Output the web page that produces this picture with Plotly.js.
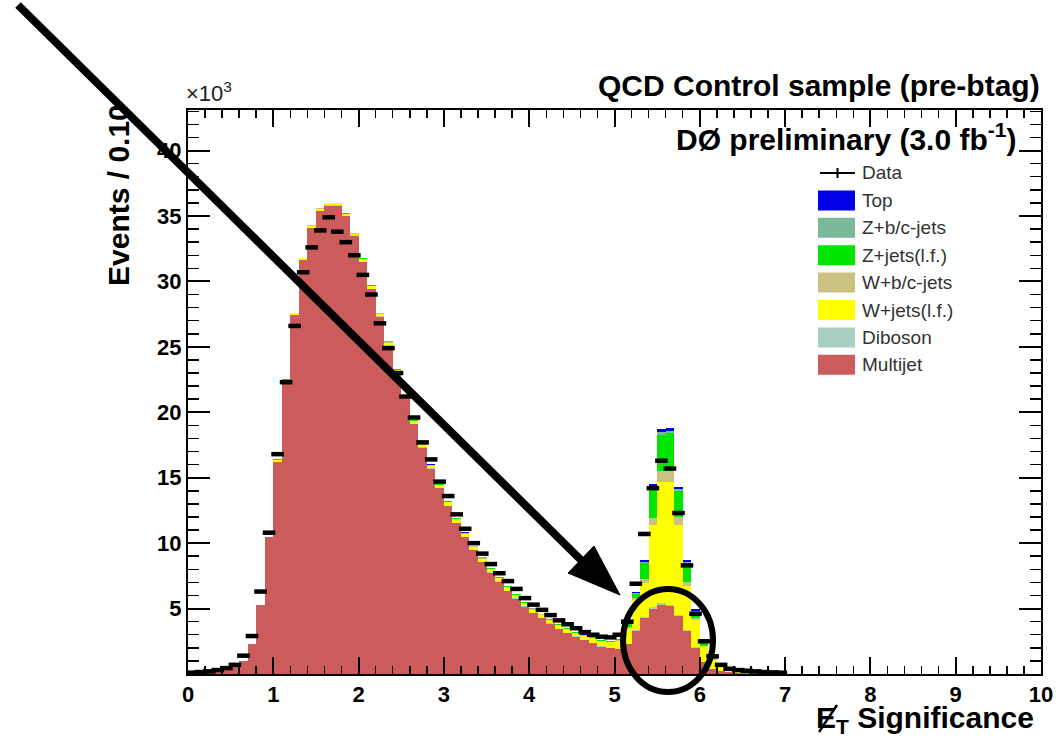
<!DOCTYPE html>
<html><head><meta charset="utf-8">
<script src="https://cdn.plot.ly/plotly-3.0.1.min.js"></script>
<style>html,body{margin:0;padding:0;background:#fff}#chart{width:1058px;height:739px}</style>
</head><body><div id="chart"></div>
<script>
// bin centres of the 0.1-wide MET-significance bins
const binCenters = [0.05,0.15,0.25,0.35,0.45,0.55,0.65,0.75,0.85,0.95,
  1.05,1.15,1.25,1.35,1.45,1.55,1.65,1.75,1.85,1.95,
  2.05,2.15,2.25,2.35,2.45,2.55,2.65,2.75,2.85,2.95,
  3.05,3.15,3.25,3.35,3.45,3.55,3.65,3.75,3.85,3.95,
  4.05,4.15,4.25,4.35,4.45,4.55,4.65,4.75,4.85,4.95,
  5.05,5.15,5.25,5.35,5.45,5.55,5.65,5.75,5.85,5.95,
  6.05,6.15,6.25,6.35,6.45,6.55,6.65,6.75,6.85,6.95];

// events per bin, in thousands
const multijet = [0.05,0.10,0.15,0.20,0.30,0.50,1.00,2.30,5.30,10.5,
  16.2,22.3,27.4,31.6,34.1,35.4,35.8,35.8,35.0,33.5,
  31.5,29.4,27.3,25.1,23.0,21.0,19.1,17.3,15.7,14.2,
  12.85,11.55,10.45,9.45,8.55,7.75,7.05,6.35,5.75,5.15,
  4.65,4.25,3.85,3.45,3.15,2.85,2.6,2.35,2.1,1.95,
  1.9,2.3,3.3,4.3,5.0,5.3,5.2,4.4,3.3,2.0,
  0.9,0.4,0.2,0.12,0.08,0.06,0.05,0.04,0.03,0.02];
const diboson = [0,0,0,0,0,0,0,0,0,0,
  0.01,0.01,0.01,0.01,0.01,0.01,0.01,0.01,0.01,0.01,
  0.02,0.02,0.02,0.02,0.02,0.02,0.02,0.02,0.02,0.02,
  0.02,0.02,0.02,0.02,0.02,0.02,0.02,0.02,0.02,0.02,
  0.02,0.02,0.02,0.02,0.02,0.02,0.02,0.02,0.02,0.02,
  0.02,0.02,0.03,0.05,0.1,0.1,0.1,0.1,0.05,0.03,
  0.02,0.01,0,0,0,0,0,0,0,0];
const wJetsLF = [0,0,0,0,0,0,0,0,0,0,
  0.15,0.15,0.15,0.15,0.15,0.15,0.15,0.15,0.15,0.15,
  0.2,0.2,0.2,0.2,0.2,0.2,0.2,0.2,0.2,0.2,
  0.25,0.25,0.25,0.25,0.25,0.25,0.25,0.25,0.25,0.25,
  0.25,0.25,0.25,0.25,0.25,0.25,0.3,0.35,0.4,0.45,
  0.6,1.2,2.3,2.6,6.3,9.3,9.4,6.9,3.4,2.1,
  1.2,0.65,0.35,0.2,0.15,0.12,0.09,0.06,0.04,0.03];
const wJetsBC = [0,0,0,0,0,0,0,0,0,0,
  0.02,0.02,0.02,0.02,0.02,0.02,0.02,0.02,0.02,0.02,
  0.03,0.03,0.03,0.03,0.03,0.03,0.03,0.03,0.03,0.03,
  0.03,0.03,0.03,0.03,0.03,0.03,0.03,0.03,0.03,0.03,
  0.03,0.03,0.03,0.03,0.03,0.03,0.03,0.03,0.03,0.03,
  0.05,0.05,0.15,0.3,0.5,0.8,0.8,0.6,0.3,0.15,
  0.05,0.05,0,0,0,0,0,0,0,0];
const zJetsLF = [0,0,0,0,0,0,0,0,0,0,
  0.03,0.03,0.03,0.03,0.03,0.03,0.03,0.03,0.03,0.03,
  0.05,0.05,0.05,0.05,0.05,0.05,0.05,0.05,0.05,0.05,
  0.05,0.05,0.05,0.05,0.05,0.05,0.05,0.05,0.05,0.05,
  0.05,0.05,0.05,0.05,0.05,0.05,0.05,0.05,0.05,0.05,
  0.1,0.25,0.35,1.2,2.3,2.8,2.9,2.0,1.4,0.5,
  0.25,0.1,0.05,0.03,0.02,0.02,0.01,0.01,0.01,0];
const zJetsBC = [0,0,0,0,0,0,0,0,0,0,
  0,0,0,0,0,0,0,0,0,0,
  0.01,0.01,0.01,0.01,0.01,0.01,0.01,0.01,0.01,0.01,
  0.01,0.01,0.01,0.01,0.01,0.01,0.01,0.01,0.01,0.01,
  0.01,0.01,0.01,0.01,0.01,0.01,0.01,0.01,0.01,0.01,
  0.01,0.02,0.05,0.1,0.1,0.2,0.2,0.1,0.1,0.05,
  0.02,0.01,0,0,0,0,0,0,0,0];
const topQuark = [0,0,0,0,0,0,0,0,0,0,
  0,0,0,0,0,0,0,0,0,0,
  0.01,0.01,0.01,0.01,0.01,0.01,0.01,0.01,0.01,0.01,
  0.01,0.01,0.01,0.01,0.01,0.01,0.01,0.01,0.01,0.01,
  0.01,0.01,0.01,0.01,0.01,0.01,0.01,0.01,0.01,0.01,
  0.01,0.02,0.05,0.15,0.2,0.2,0.2,0.2,0.15,0.1,
  0.02,0.01,0,0,0,0,0,0,0,0];
const dataCounts = [0.1,0.15,0.2,0.3,0.45,0.7,1.4,2.9,6.3,10.8,
  16.8,22.3,26.6,30.7,32.6,33.9,34.9,33.8,33.0,32.0,
  30.5,29.0,26.8,24.9,23.0,21.2,19.6,17.7,16.4,14.7,
  13.6,12.2,11.1,10.0,9.2,8.4,7.7,7.1,6.5,5.8,
  5.3,4.9,4.5,4.1,3.8,3.5,3.2,3.0,2.85,2.8,
  3.0,4.0,6.9,10.7,14.2,16.3,15.7,12.3,8.3,4.6,
  2.5,1.35,0.7,0.4,0.3,0.25,0.2,0.15,0.12,0.1];

// stack order bottom -> top
const stackNames = ['Multijet','Diboson','W+jets(l.f.)','W+b/c-jets','Z+jets(l.f.)','Z+b/c-jets','Top'];
const stackValues = [multijet, diboson, wJetsLF, wJetsBC, zJetsLF, zJetsBC, topQuark];
const stackColors = ['#cc5c5c','#a9cfc3','#ffff00','#cbc282','#00e600','#7ab99a','#0000e6'];

const xTickVals = [0,1,2,3,4,5,6,7,8,9,10];
const yTickVals = [5,10,15,20,25,30,35,40];

// page geometry helpers for decorations (pixel -> paper)
const W = 1058, H = 739, ML = 188, MR = 17, MT = 110, MB = 65;
const PW = W - ML - MR, PH = H - MT - MB;
const px = x => (x - ML) / PW;
const py = y => (H - MB - y) / PH;

const FONT = 'Liberation Sans, Arial, Helvetica, sans-serif';

const traces = stackNames.map((name, i) => ({
  type: 'bar', name: name, x: binCenters, y: stackValues[i],
  marker: {color: stackColors[i], line: {width: 0}},
  showlegend: false, hoverinfo: 'skip'
}));
traces.push({
  type: 'scatter', mode: 'markers', name: 'Data', x: binCenters, y: dataCounts,
  marker: {symbol: 'line-ew', size: 9, color: '#000', line: {color: '#000', width: 4.5}},
  showlegend: false, hoverinfo: 'skip'
});

// custom legend (ROOT style), top to bottom
const legendOrder = ['Top','Z+b/c-jets','Z+jets(l.f.)','W+b/c-jets','W+jets(l.f.)','Diboson','Multijet'];
const shapes = [];
const annotations = [];
const legY0 = 173, legDY = 27.4, boxX0 = 818, boxX1 = 855, textX = 861;
shapes.push({type:'line', xref:'paper', yref:'paper', x0:px(820), x1:px(855), y0:py(legY0), y1:py(legY0), line:{color:'#000', width:2}});
shapes.push({type:'line', xref:'paper', yref:'paper', x0:px(837.5), x1:px(837.5), y0:py(legY0-5), y1:py(legY0+5), line:{color:'#000', width:2}});
annotations.push({xref:'paper', yref:'paper', x:px(textX), y:py(legY0), xanchor:'left', yanchor:'middle', showarrow:false, borderpad:0, text:'Data', font:{family:FONT, size:19, color:'#333'}});
legendOrder.forEach((name, k) => {
  const yc = legY0 + legDY * (k + 1);
  const col = stackColors[stackNames.indexOf(name)];
  shapes.push({type:'rect', xref:'paper', yref:'paper', x0:px(boxX0), x1:px(boxX1), y0:py(yc-10), y1:py(yc+10), fillcolor:col, line:{width:0}});
  annotations.push({xref:'paper', yref:'paper', x:px(textX), y:py(yc), xanchor:'left', yanchor:'middle', showarrow:false, borderpad:0, text:name, font:{family:FONT, size:19, color:'#333'}});
});

// hand-drawn arrow and ellipse
shapes.push({type:'path', xref:'paper', yref:'paper', path:`M ${px(18)} ${py(5)} L ${px(583)} ${py(562)}`, line:{color:'#000', width:8}});
shapes.push({type:'path', xref:'paper', yref:'paper', path:`M ${px(620)} ${py(595)} L ${px(568)} ${py(573)} L ${px(594)} ${py(546)} Z`, fillcolor:'#000', line:{color:'#000', width:1}});
shapes.push({type:'circle', xref:'paper', yref:'paper', x0:px(623), x1:px(713), y0:py(692), y1:py(589), line:{color:'#000', width:6}});

// slash through the E of the x-axis title (missing-ET symbol)
shapes.push({type:'line', xref:'paper', yref:'paper', x0:px(819), x1:px(837), y0:py(732), y1:py(705), line:{color:'#000', width:2.5}});

annotations.push({xref:'paper', yref:'paper', x:px(1041), y:py(86), xanchor:'right', yanchor:'middle', showarrow:false, borderpad:0,
  text:'QCD Control sample (pre-btag)', font:{family:FONT, size:30, weight:'bold', color:'#000'}});
annotations.push({xref:'paper', yref:'paper', x:px(1017), y:py(137), xanchor:'right', yanchor:'middle', showarrow:false, borderpad:0,
  text:'DØ preliminary (3.0 fb<sup>-1</sup>)', font:{family:FONT, size:30, weight:'bold', color:'#000'}});
annotations.push({xref:'paper', yref:'paper', x:px(185), y:py(92), xanchor:'left', yanchor:'middle', showarrow:false, borderpad:0,
  text:'×10<sup>3</sup>', font:{family:FONT, size:22, color:'#222'}});
annotations.push({xref:'paper', yref:'paper', x:px(119), y:py(103), xanchor:'center', yanchor:'top', textangle:-90, showarrow:false, borderpad:0,
  text:'Events / 0.10', font:{family:FONT, size:30, weight:'bold', color:'#000'}});
annotations.push({xref:'paper', yref:'paper', x:px(815), y:py(739), xanchor:'left', yanchor:'bottom', showarrow:false, borderpad:0,
  text:'E<sub>T</sub> Significance', font:{family:FONT, size:30, weight:'bold', color:'#000'}});

const axisCommon = {
  showgrid:false, zeroline:false, showline:true, linecolor:'#000', linewidth:2,
  mirror:'allticks', ticks:'inside', tickcolor:'#000', tickwidth:2,
  tickfont:{family:FONT, size:22, weight:'bold', color:'#000'}
};

const layout = {
  width: W, height: H,
  margin: {l:ML, r:MR, t:MT, b:MB, pad:0},
  paper_bgcolor:'#fff', plot_bgcolor:'#fff',
  barmode:'stack', bargap:0,
  showlegend:false,
  xaxis: Object.assign({}, axisCommon, {
    range:[0,10], tickmode:'array', tickvals:xTickVals, ticktext:xTickVals.map(String), ticklen:17,
    minor:{ticks:'inside', dtick:0.2, ticklen:8, tickwidth:1.5, tickcolor:'#000'}
  }),
  yaxis: Object.assign({}, axisCommon, {
    range:[0,43.1], tickmode:'array', tickvals:yTickVals, ticktext:yTickVals.map(String), ticklen:22,
    minor:{ticks:'inside', dtick:1, ticklen:11, tickwidth:1.5, tickcolor:'#000'}
  }),
  shapes: shapes,
  annotations: annotations
};

Plotly.newPlot('chart', traces, layout, {staticPlot:true, displayModeBar:false});
</script></body></html>
